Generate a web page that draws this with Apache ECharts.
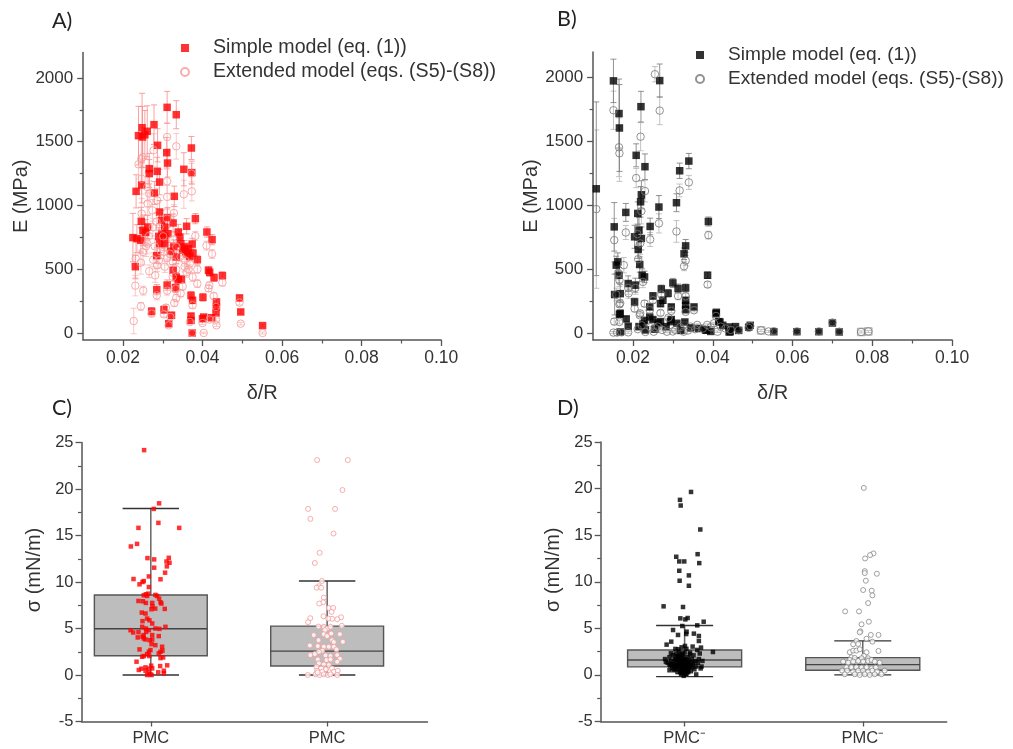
<!DOCTYPE html>
<html><head><meta charset="utf-8">
<style>html,body{margin:0;padding:0;background:#fff}#c{width:1013px;height:749px;filter:blur(.45px)}</style>
<script src="https://cdn.jsdelivr.net/npm/echarts@6/dist/echarts.min.js"></script>
</head><body><div id="c"></div>
<script>
// [delta/R, E (MPa), error]
const simpleA=[[.0311,1770,125],[.0334,1712,110],[.0278,1634,155],[.0248,1610,270],[.0239,1548,230],[.0249,1537,240],[.0261,1582,200],[.0255,1555,190],[.0287,1472,130],[.0372,1451,90],[.0310,1414,120],[.0312,1333,110],[.0266,1289,120],[.0266,1250,110],[.0286,1268,110],[.0353,1284,130],[.0373,1258,90],[.0292,1184,100],[.0247,1161,140],[.0233,1111,130],[.0279,1098,90],[.0329,1072,80],[.0292,949,90],[.0312,905,80],[.0382,897,40],[.0246,876,110],[.0326,863,70],[.0360,837,60],[.0250,805,120],[.0262,831,90],[.0257,790,100],[.0297,884,80],[.0305,831,70],[.0411,792,40],[.0424,732,40],[.0225,748,190],[.0235,740,110],[.0245,727,100],[.0290,758,70],[.0313,779,70],[.0339,792,60],[.0343,753,55],[.0292,701,70],[.0374,698,45],[.0355,675,50],[.0364,661,45],[.0334,596,50],[.0376,627,40],[.0387,575,35],[.0285,607,60],[.0231,520,90],[.0415,492,30],[.0326,492,45],[.0418,475,30],[.0429,434,30],[.0450,450,30],[.0334,439,35],[.0347,421,30],[.0339,418,30],[.0311,376,40],[.0285,340,40],[.0332,355,35],[.0371,295,30],[.0375,256,25],[.0401,280,30],[.0435,243,25],[.0435,204,20],[.0493,275,20],[.0496,165,15],[.0551,58,10],[.0272,170,30],[.0303,183,30],[.0322,139,25],[.0371,133,20],[.0371,99,20],[.0403,125,15],[.0400,112,15],[.0423,120,15],[.0434,157,15],[.0315,73,15],[.0374,0,8],[.0345,700,45],[.0350,650,45],[.0358,640,40],[.0362,620,40],[.0368,600,35],[.0328,680,50],[.0320,640,50],[.0305,700,55],[.0298,780,65],[.0305,760,60]];
const extA=[[.0311,1537,110],[.0334,1464,100],[.0277,1433,130],[.0250,1380,230],[.0246,1365,200],[.0239,1323,200],[.0372,1250,80],[.0373,1111,75],[.0353,1088,110],[.0247,1210,120],[.0261,1145,110],[.0266,1093,100],[.0311,1190,95],[.0311,1067,90],[.0286,1040,95],[.0262,1014,85],[.0274,962,85],[.0247,936,120],[.0328,941,65],[.0311,897,70],[.0284,871,70],[.0292,831,75],[.0382,761,35],[.0301,758,65],[.0326,732,60],[.0261,701,80],[.0250,635,100],[.0410,685,35],[.0424,620,35],[.0232,583,160],[.0245,552,90],[.0276,575,55],[.0290,570,60],[.0286,531,50],[.0311,588,55],[.0303,635,55],[.0334,675,50],[.0318,622,50],[.0356,570,45],[.0368,544,40],[.0387,499,30],[.0334,499,40],[.0360,478,40],[.0266,484,50],[.0281,452,55],[.0375,439,35],[.0387,387,30],[.0417,374,25],[.0415,350,25],[.0231,371,80],[.0251,332,35],[.0450,395,25],[.0350,366,30],[.0333,348,30],[.0311,332,35],[.0285,295,35],[.0334,275,30],[.0329,235,25],[.0428,290,25],[.0493,238,18],[.0434,204,18],[.0375,217,22],[.0245,209,30],[.0308,199,25],[.0303,146,20],[.0272,152,25],[.0319,125,20],[.0227,94,100],[.0434,105,12],[.0418,105,12],[.0368,86,15],[.0400,78,12],[.0315,60,12],[.0496,73,10],[.0435,60,10],[.0551,0,8],[.0374,0,6],[.0403,0,6],[.0345,600,40],[.0325,560,45],[.0305,520,45],[.0295,640,55],[.0265,760,70],[.0258,680,80],[.0355,520,40],[.0365,500,35],[.0280,680,60],[.0325,440,35],[.0345,310,25],[.0275,830,70]];
const simpleB=[[.0151,1974,170],[.0165,1718,270],[.0166,1605,340],[.0220,1772,120],[.0267,1976,130],[.0208,1391,90],[.0230,1302,100],[.0340,1346,60],[.0317,1270,60],[.0309,1020,70],[.0108,1129,680],[.0221,1082,110],[.0219,1027,120],[.0265,986,90],[.0182,944,70],[.0212,936,90],[.0243,834,65],[.0153,831,190],[.0215,805,100],[.0204,753,90],[.0221,740,90],[.0389,873,35],[.0213,654,70],[.0332,682,50],[.0328,620,45],[.0162,557,70],[.0158,531,70],[.0165,452,60],[.0217,536,60],[.0223,452,50],[.0229,439,45],[.0387,452,25],[.0188,387,60],[.0154,301,160],[.0168,308,70],[.0206,374,55],[.0300,392,35],[.0271,345,30],[.0313,348,35],[.0332,353,30],[.0250,290,25],[.0288,311,30],[.0269,230,25],[.0275,256,25],[.0204,243,30],[.0332,256,20],[.0332,217,20],[.0332,183,18],[.0353,204,15],[.0296,204,18],[.0242,204,20],[.0166,146,25],[.0168,154,25],[.0183,110,20],[.0188,52,15],[.0168,8,10],[.0229,99,15],[.0242,125,15],[.0250,105,15],[.0263,78,12],[.0296,105,15],[.0330,86,12],[.0408,152,15],[.0384,21,10],[.0418,86,10],[.0441,47,10],[.0441,8,8],[.0494,60,8],[.0490,45,8],[.0231,24,8],[.0269,89,12],[.0294,89,10],[.0310,76,10],[.0382,24,8],[.0409,162,12],[.0415,89,10],[.0457,50,8],[.0444,10,8],[.0465,20,8],[.0553,10,6],[.0611,10,8],[.0666,10,8],[.0700,78,10],[.0717,8,8],[.0215,50,10],[.0225,70,10],[.0255,30,8],[.0283,50,8],[.0320,20,8],[.0345,40,8],[.0365,35,8],[.0395,12,8],[.0425,60,8]];
const faintB=[[.0521,20,8],[.0772,8,8],[.0790,12,8]];
const extB=[[.0151,1744,150],[.0255,2026,60],[.0267,1741,110],[.0219,1537,110],[.0165,1454,230],[.0166,1407,220],[.0208,1213,75],[.0230,1111,85],[.0317,1116,50],[.0340,1179,55],[.0221,954,100],[.0265,858,75],[.0309,795,85],[.0182,787,55],[.0211,774,80],[.0108,970,620],[.0243,732,55],[.0153,727,170],[.0218,701,85],[.0389,766,30],[.0213,578,60],[.0332,567,40],[.0328,523,35],[.0177,531,60],[.0163,471,55],[.0166,413,50],[.0225,400,45],[.0387,379,22],[.0188,353,50],[.0206,353,50],[.0158,301,50],[.0271,301,25],[.0313,290,30],[.0332,288,25],[.0250,256,22],[.0166,225,25],[.0229,230,25],[.0204,191,25],[.0269,157,20],[.0332,165,15],[.0353,178,13],[.0296,173,15],[.0242,178,18],[.0217,139,15],[.0289,120,12],[.0408,133,12],[.0153,89,25],[.0168,233,30],[.0189,311,40],[.0218,154,20],[.0166,86,15],[.0151,3,8],[.0171,5,8],[.0188,5,8],[.0231,8,8],[.0244,45,8],[.0256,37,8],[.0273,24,8],[.0285,10,8],[.0306,24,8],[.0327,10,8],[.0344,50,8],[.0361,63,8],[.0386,63,8],[.0403,76,8],[.0420,50,8],[.0445,24,8],[.0465,22,8],[.0494,55,8],[.0490,40,8],[.0521,20,8],[.0540,12,8],[.0553,14,6],[.0611,12,8],[.0666,12,8],[.0700,82,10],[.0717,10,8],[.0772,8,8],[.0790,12,8],[.0160,3,6],[.0212,30,8],[.0222,60,8],[.0252,10,6],[.0262,50,8],[.0300,12,6],[.0318,45,8],[.0338,20,6],[.0356,30,6],[.0375,35,6],[.0395,45,6],[.0412,10,6],[.0432,35,6]];
// box values: [position, low, q1, median, q3, high]
const boxC=[[1,0,2.07,4.97,8.6,17.9],[2,0,.97,2.57,5.26,10.1]];
const boxD=[[1,-.18,.86,1.6,2.68,5.3],[2,0,.5,1.1,1.86,3.65]];
// jittered points: [position, sigma (mN/m)]
const pointsC1=[[.962,24.18],[1.047,18.46],[1.017,17.86],[1.043,16.36],[.93,15.82],[1.161,15.82],[.922,14.1],[.887,13.82],[.981,12.57],[1.019,12.43],[1.102,12.6],[1.089,12.2],[1.106,12.07],[1.091,11.68],[1.019,11.54],[1.081,11],[.989,10.6],[.902,10.32],[1.055,10.29],[.96,10.1],[.953,10],[.936,9.75],[.989,9.46],[.972,8.68],[.985,8.75],[.979,8.5],[.96,8.57],[1.026,8.61],[1.036,8.5],[1.047,8.21],[.93,7.96],[.955,7.93],[.972,7.75],[1.008,7.75],[1.055,7.82],[1.06,7.68],[1.009,7.39],[1.025,7.14],[1.079,7.11],[1.004,7.07],[.949,6.71],[.97,6.61],[.979,6.07],[.992,5.89],[.953,5.79],[1.008,5.54],[1.083,5.18],[.951,5.18],[.972,5],[1.026,5],[1.049,4.96],[.885,4.82],[.9,4.57],[.93,4.61],[.974,4.64],[.989,4.82],[.96,4.29],[.926,4.04],[.953,4.11],[1.008,4.29],[1.045,4.18],[.97,3.82],[.994,3.75],[.96,3.93],[1.008,3.82],[1.004,3.32],[1.026,3.21],[1.064,3.04],[1.066,2.61],[.998,2.68],[.989,2.5],[.936,2.75],[1.045,2.32],[1.055,2.5],[.979,2.25],[.96,2.04],[.951,1.96],[.991,2.04],[1.055,1.82],[1.07,1.89],[.919,1.43],[1.002,1],[1.053,.96],[1.093,1.04],[.97,.82],[.947,.68],[.932,.54],[.989,.68],[1.008,.71],[1.074,.46],[1.042,.29],[.97,.46],[.989,.25],[.998,.07],[.979,0],[1.074,.18],[1.004,0]];
const pointsC2=[[1.943,23.11],[2.117,23.11],[2.087,19.89],[1.892,17.86],[2.045,17.86],[1.905,16.79],[2.036,15.21],[1.957,13.14],[1.93,12.04],[1.97,10.11],[1.953,9.54],[1.94,9.39],[1.966,9.39],[1.981,8.32],[1.977,7.82],[1.955,7.68],[2.009,7.21],[2.034,7.21],[2.025,6.79],[1.979,6.32],[1.904,6.11],[1.892,5.68],[2.079,6.21],[2.057,6],[2.028,6.04],[2.006,6.07],[2.083,5.29],[1.951,5.21],[1.981,5.18],[2,5],[2.019,5.18],[1.987,4.82],[1.924,4.29],[1.981,4.39],[2,4.18],[2.023,4.46],[2.072,4.39],[1.951,3.75],[2.028,3.75],[2.038,3.54],[2.089,3.57],[1.902,3.18],[1.947,3.11],[1.981,3.04],[2.009,3.04],[2.038,3.04],[2.053,2.75],[1.972,2.61],[1.953,2.5],[1.93,2.25],[1.905,2.14],[1.991,2.11],[2.019,2.04],[2.057,2.14],[1.947,1.68],[1.996,1.61],[2.019,1.68],[2.072,1.75],[2.057,1.43],[1.953,1.25],[1.981,1.14],[2.009,1.07],[1.939,.89],[1.966,.71],[1.994,.61],[2.028,.71],[1.943,.46],[1.972,.36],[2.038,.36],[2.06,.46],[1.89,0],[1.934,.07],[1.958,0],[1.981,.07],[2.004,0],[2.019,.07],[2.057,0],[1.946,.28]];
const pointsD1=[[1.036,19.64],[.974,18.79],[.978,18.18],[1.088,15.61],[1.073,12.96],[.953,12.68],[.97,12.18],[.998,12.18],[1.082,12],[.97,11.18],[1.024,10.68],[.972,10.11],[1.024,9.57],[.882,7.36],[.991,7.29],[.976,6.07],[1.004,5.96],[1.017,6.11],[1.107,5.71],[1.071,5.32],[.987,5.25],[.935,4.82],[1.011,4.64],[.963,4.29],[1.009,4.39],[1.052,4.43],[1.08,4.18],[1.08,3.64],[.925,3.57],[.899,3.25],[1.092,2.93],[1.071,2.68],[1.045,3.04],[1.002,3.11],[.983,2.96],[.964,2.75],[.948,2.79],[1.159,2.46],[.923,2.32],[1.03,2.39],[.89,1.7],[.895,1.4],[.905,1.3],[.915,1.9],[.92,1],[.925,1.5],[.93,.7],[.935,2.1],[.94,1.2],[.94,.5],[.945,1.7],[.95,2.3],[.95,.9],[.955,1.4],[.96,.3],[.96,1.9],[.965,1.1],[.97,2.5],[.97,.6],[.975,1.6],[.98,.1],[.98,1.2],[.985,2.1],[.985,.8],[.99,1.5],[.99,.3],[.995,1.9],[.995,-.1],[1,1],[1,2.4],[1.005,.5],[1.005,1.6],[1.01,.1],[1.01,2.8],[1.015,1.2],[1.015,.7],[1.02,1.9],[1.02,.3],[1.025,1.4],[1.03,.9],[1.03,2.2],[1.035,.4],[1.04,1.7],[1.045,1.1],[1.05,2.1],[1.055,.6],[1.06,1.5],[1.065,.9],[1.075,1.3],[1.08,1.7],[1.085,2.3],[1.09,.7],[1.1,1.5],[1.065,.05],[.915,.5],[1.095,.9],[.975,1],[.985,1.4],[.995,1.2],[1.005,1],[1.015,1.6],[1.025,.9],[.965,1.7],[.955,1],[1.035,1.3],[.99,.7],[1.01,.6],[1,.2],[.98,.5],[1.02,.5],[.94,1],[.95,1.6],[.96,.7],[.97,1.3],[.975,.3],[.98,1.8],[.985,.2],[.99,1],[.995,.5],[1,1.7],[1.005,.1],[1.01,1.3],[1.015,.3],[.965,2],[.945,.6],[.955,2],[.975,2.2],[.99,2.3],[1.02,1.1],[.93,1.2],[.915,1.1],[1.05,1.3],[1.04,.8]];
const pointsD2=[[2.006,20.07],[2.06,13.04],[2.041,12.86],[2.013,12.5],[2.011,11.14],[2.011,10.93],[2.079,10.86],[2.017,10.11],[2.002,9.11],[2.05,9.04],[2.054,8.54],[2.03,7.71],[1.901,6.82],[1.979,6.82],[2.034,5.71],[1.993,5.43],[1.987,4.68],[1.983,4.57],[2.045,4.29],[2.088,4.29],[2.021,3.89],[1.964,3.64],[2.054,3.57],[1.946,3.29],[1.974,3.32],[2.088,2.57],[1.927,2.43],[1.946,2.61],[1.964,2.61],[1.983,2.75],[2.021,2.43],[1.936,1.89],[1.955,1.82],[2.006,2.04],[1.993,1.79],[2.03,1.79],[1.927,1.61],[1.89,1.43],[1.918,1.32],[1.946,1.43],[1.974,1.5],[2.002,1.43],[2.03,1.5],[2.049,1.61],[2.067,1.43],[2.095,1.32],[1.908,.82],[1.936,.82],[1.964,.82],[1.993,.79],[2.021,.82],[2.049,.71],[2.073,.79],[1.884,.46],[1.912,.46],[1.946,.36],[1.974,.46],[2.002,.46],[2.03,.36],[2.054,.46],[2.08,.36],[2.123,.46],[1.899,.07],[1.955,.07],[1.983,0],[2.011,.07],[2.039,0],[2.067,.07],[2.105,.07]];
const ticksE=[0,500,1000,1500,2000], minorE=[250,750,1250,1750];
const ticksD=[.02,.04,.06,.08,.10], minorD=[.03,.05,.07,.09];
const labelsC=['PMC','PMC'], labelsD=['PMC\u207B','PMC\u207B'];
const panelLetters=['A)','B)','C)','D)'];
const nameSimple='Simple model (eq. (1))', nameExt='Extended model (eqs. (S5)-(S8))';

const AX='#555', TXT='#333', FF='"Liberation Sans",Arial,sans-serif';
const line={onZero:false,lineStyle:{color:AX,width:1.5}};
const grids=[
 {left:83.2,top:52.5,width:358,height:287.5},
 {left:593.1,top:52,width:359,height:288},
 {left:81.5,top:442.5,width:346,height:279},
 {left:600.7,top:442,width:346,height:279.5}];

function majorX(g){return {type:'value',gridIndex:g,position:'bottom',min:.01,max:.10,splitLine:{show:false},axisLine:line,
  axisTick:{customValues:ticksD,length:6,lineStyle:{color:AX,width:1.3}},
  axisLabel:{customValues:ticksD,formatter:v=>v.toFixed(2),fontSize:17.5,color:TXT,fontFamily:FF,margin:9},
  name:'\u03B4/R',nameLocation:'middle',nameGap:43,nameTextStyle:{fontSize:20,color:TXT,fontFamily:FF}};}
function minorX(g){return {type:'value',gridIndex:g,position:'bottom',min:.01,max:.10,splitLine:{show:false},axisLine:{show:false,onZero:false},
  axisTick:{customValues:minorD,length:3.5,lineStyle:{color:AX,width:1.2}},axisLabel:{show:false}};}
function majorY(g){return {type:'value',gridIndex:g,position:'left',min:-55,max:2200,splitLine:{show:false},axisLine:line,
  axisTick:{customValues:ticksE,length:6,lineStyle:{color:AX,width:1.3}},
  axisLabel:{customValues:ticksE,formatter:v=>String(v),fontSize:17,color:TXT,fontFamily:FF,margin:10},
  name:'E (MPa)',nameLocation:'middle',nameGap:50,nameRotate:90,nameTextStyle:{fontSize:20,color:TXT,fontFamily:FF}};}
function minorY(g){return {type:'value',gridIndex:g,position:'left',min:-55,max:2200,splitLine:{show:false},axisLine:{show:false,onZero:false},
  axisTick:{customValues:minorE,length:3.5,lineStyle:{color:AX,width:1.2}},axisLabel:{show:false}};}
function boxX(g,min,max,labels){return {type:'value',gridIndex:g,position:'bottom',min,max,splitLine:{show:false},axisLine:line,
  axisTick:{customValues:[1,2],length:5,lineStyle:{color:AX,width:1.3}},
  axisLabel:{customValues:[1,2],formatter:v=>labels[v-1],fontSize:16.5,color:TXT,fontFamily:FF,margin:8}};}
function boxY(g){return {type:'value',gridIndex:g,position:'left',min:-5,max:25,interval:5,splitLine:{show:false},axisLine:line,
  axisTick:{length:6,lineStyle:{color:AX,width:1.3}},minorTick:{show:true,splitNumber:2,length:3.5,lineStyle:{color:AX,width:1.2}},
  axisLabel:{fontSize:16.5,color:TXT,fontFamily:FF,margin:8},
  name:'\u03C3 (mN/m)',nameLocation:'middle',nameGap:37,nameRotate:90,nameTextStyle:{fontSize:20,color:TXT,fontFamily:FF,padding:[0,0,0,24]}};}

function errSeries(data,xi,yi,color,z){return {type:'custom',xAxisIndex:xi,yAxisIndex:yi,data,z,clip:true,silent:true,
  encode:{x:0,y:1},
  renderItem(p,api){const x=api.value(0),y=api.value(1),e=api.value(2);
    const a=api.coord([x,y+e]),b=api.coord([x,y-e]);const st={stroke:color,lineWidth:.8,fill:null};
    return {type:'group',children:[
      {type:'line',shape:{x1:a[0],y1:a[1],x2:b[0],y2:b[1]},style:st},
      {type:'line',shape:{x1:a[0]-3,y1:a[1],x2:a[0]+3,y2:a[1]},style:st},
      {type:'line',shape:{x1:b[0]-3,y1:b[1],x2:b[0]+3,y2:b[1]},style:st}]};}};}
function boxSeries(data,xi,yi){return {type:'custom',xAxisIndex:xi,yAxisIndex:yi,data,z:1,silent:true,
  encode:{x:0,y:[1,2,3,4,5]},
  renderItem(p,api){const c=api.value(0),pt=(o,v)=>api.coord([c+o,v]);
    const lo=api.value(1),q1=api.value(2),m=api.value(3),q3=api.value(4),hi=api.value(5);
    const W=.32,C=.16;const a=pt(-W,q3),b=pt(W,q1);
    const wh={stroke:'#666',lineWidth:1.5,fill:null},cap={stroke:'#333',lineWidth:1.4,fill:null};
    const seg=(o1,v1,o2,v2,s)=>{const u=pt(o1,v1),w=pt(o2,v2);return {type:'line',shape:{x1:u[0],y1:u[1],x2:w[0],y2:w[1]},style:s};};
    return {type:'group',children:[
      seg(0,lo,0,q1,wh),seg(0,q3,0,hi,wh),seg(-C,lo,C,lo,cap),seg(-C,hi,C,hi,cap),
      {type:'rect',shape:{x:a[0],y:a[1],width:b[0]-a[0],height:b[1]-a[1]},style:{fill:'#bdbdbd',stroke:'#555',lineWidth:1.4}},
      seg(-W,m,W,m,{stroke:'#444',lineWidth:1.4,fill:null})]};}};}
function scat(name,data,xi,yi,symbol,size,style,z){return {type:'scatter',name,data,xAxisIndex:xi,yAxisIndex:yi,symbol,symbolSize:size,itemStyle:style,z,silent:true,animation:false,clip:true,encode:{x:0,y:1}};}

const leg=(left,top,names,fs)=>({left,top,orient:'vertical',data:names,selectedMode:false,itemWidth:8,itemHeight:8,itemGap:3,padding:0,
  formatter:n=>n.trim(),textStyle:{fontSize:fs,color:TXT,fontFamily:FF,lineHeight:21,padding:[0,0,0,19]}});

const red={color:'#f00'},pink={color:'rgba(255,255,255,0)',borderColor:'#f59a9a',borderWidth:1};
const blk={color:'#000'},gry={color:'rgba(255,255,255,0)',borderColor:'#777',borderWidth:1};

const letters=panelLetters.map((t,i)=>({text:t,left:[52,557,52,557][i],top:[10,8,397,397][i],padding:0,textStyle:{fontFamily:'Lato',fontWeight:'normal',fontSize:21.5,color:'#222'}}));

const option={animation:false,backgroundColor:'#fff',title:letters,grid:grids,
 legend:[leg(180,37.5,[nameSimple,nameExt],19.6),leg(695,44.5,[nameSimple+' ',nameExt+' '],19.1)],
 xAxis:[majorX(0),majorX(1),boxX(2,.607,2.569,labelsC),boxX(3,.529,2.471,labelsD),minorX(0),minorX(1)],
 yAxis:[majorY(0),majorY(1),boxY(2),boxY(3),minorY(0),minorY(1)],
 series:[
  errSeries(extA,0,0,'#fbb9b9',1),errSeries(simpleA,0,0,'#f98a8a',2),
  scat(nameSimple,simpleA,0,0,'rect',7.5,red,3),scat(nameExt,extA,0,0,'circle',7.5,pink,4),
  errSeries(extB,1,1,'#b5b5b5',1),errSeries(simpleB,1,1,'#777',2),
  scat(nameSimple+' ',simpleB,1,1,'rect',7.5,blk,3),
  scat('faint',faintB,1,1,'rect',7.5,{color:'rgba(255,255,255,0)',borderColor:'#999',borderWidth:1},3),
  scat(nameExt+' ',extB,1,1,'circle',7.5,gry,4),
  boxSeries(boxC,2,2),boxSeries(boxD,3,3),
  scat('c1',pointsC1,2,2,'rect',4.5,red,3),scat('c2',pointsC2,2,2,'circle',5,{color:'#fff',borderColor:'#f59a9a',borderWidth:1},3),
  scat('d1',pointsD1,3,3,'rect',4.5,blk,3),scat('d2',pointsD2,3,3,'circle',5,{color:'#fff',borderColor:'#888',borderWidth:1},3)
 ]};
echarts.init(document.getElementById('c')).setOption(option);
</script></body></html>
